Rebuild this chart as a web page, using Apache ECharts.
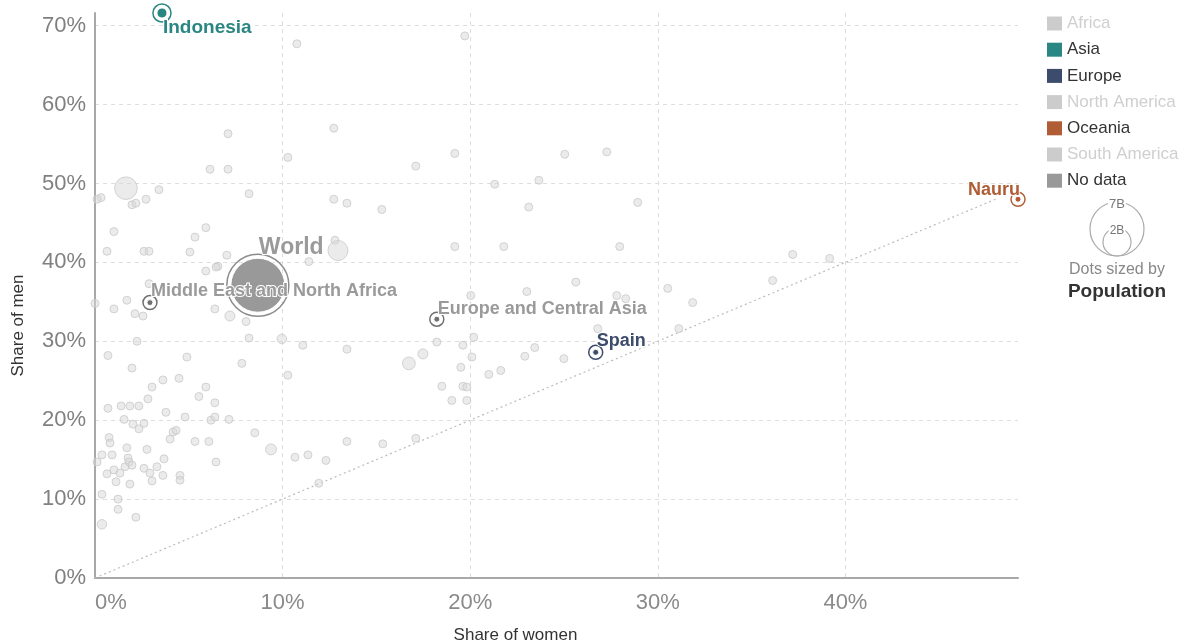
<!DOCTYPE html>
<html>
<head>
<meta charset="utf-8">
<script src="https://cdn.jsdelivr.net/npm/echarts@6/dist/echarts.min.js"></script>
<style>
  html, body { margin: 0; padding: 0; background: #fff; }
  #chart { width: 1193px; height: 643px; }
</style>
</head>
<body>
<div id="chart"></div>
<script>
// share of women / share of men (%) for every country drawn in grey
var womenShare = [
  10.76,19.71,7.09,12.73,10.28,6.13,7.09,17.10,19.18,25.04,
  27.28,1.65,0.32,0.11,3.41,1.97,2.18,2.72,8.21,12.73,
  13.43,15.29,21.31,23.66,23.12,28.93,1.01,5.91,5.33,0.64,
  2.61,2.88,5.06,7.03,5.91,6.55,6.45,12.79,12.95,11.40,
  19.18,21.79,27.97,37.19,39.16,36.12,25.63,23.02,20.03,27.81,
  28.29,30.53,31.86,31.12,26.80,2.88,0.00,1.01,1.70,2.13,
  2.56,6.39,7.19,8.05,18.22,20.19,19.61,17.48,16.73,20.09,
  19.50,22.91,23.44,24.99,21.63,20.99,18.49,19.61,19.82,19.02,
  19.82,2.24,0.69,1.97,4.90,8.21,9.96,11.08,13.43,7.83,
  10.28,3.62,4.48,3.04,2.82,5.91,5.54,6.39,0.69,1.39,
  1.86,2.34,3.78,1.55,2.02,2.34,2.61,4.80,6.18,6.39,
  7.14,4.16,4.32,4.00,5.33,6.07,8.52,0.75,0.80,1.70,
  2.77,0.37,0.91,0.11,1.76,1.81,3.68,6.45,9.38,10.66,
  11.35,12.31,11.93,13.43,15.34,17.10,1.60,1.97,1.01,1.33,
  0.64,2.61,2.93,3.30,1.12,1.86,3.04,3.62,4.53,4.53,
  0.37,1.23,1.23,2.18,0.37
];
var menShare = [
  67.7,68.7,56.3,57.0,53.3,51.8,51.8,52.2,53.8,53.7,
  54.0,49.4,48.2,48.0,49.2,47.3,47.5,48.0,48.7,48.0,
  47.5,46.7,49.9,50.4,47.0,47.6,43.9,44.4,43.2,41.4,
  41.4,41.4,41.3,40.9,38.9,39.5,39.4,42.8,41.5,40.1,
  42.0,42.0,42.0,41.0,40.5,37.7,37.5,36.3,35.8,35.8,
  35.4,36.7,34.9,31.6,31.6,37.3,34.8,34.1,35.2,33.5,
  33.2,34.1,33.2,32.5,29.9,30.5,29.5,28.4,27.2,28.0,
  26.7,28.1,29.2,27.8,26.3,25.8,24.3,24.3,24.2,22.5,
  22.5,30.0,28.2,26.6,28.0,30.4,30.3,29.5,29.0,27.2,
  25.7,25.1,25.3,24.2,22.7,24.2,23.0,22.2,21.5,21.8,
  21.8,21.8,21.0,20.1,19.5,18.9,19.6,20.4,20.0,20.4,
  20.1,18.5,18.7,17.6,17.3,17.3,18.4,17.8,17.1,16.5,
  16.3,15.6,15.6,14.7,15.2,14.7,15.1,14.7,16.3,15.3,
  15.6,14.9,12.0,17.3,17.0,17.7,14.1,14.3,13.7,13.3,
  13.2,13.9,13.3,14.1,12.2,11.9,12.3,13.0,13.0,12.4,
  10.6,10.0,8.7,7.7,6.8
];
// population in millions
var population = [
  10,10,10,10,10,10,10,10,10,10,
  10,1400,10,10,10,10,10,10,10,10,
  10,10,10,10,10,10,10,10,10,10,
  10,10,10,10,10,10,10,10,1100,10,
  10,10,10,10,10,10,10,10,10,10,
  10,10,10,10,10,10,10,10,10,10,
  10,10,275,10,10,10,10,275,450,10,
  10,10,10,10,10,10,10,10,10,10,
  10,10,10,10,10,10,250,10,10,10,
  10,10,10,10,10,10,10,10,10,10,
  10,10,10,10,10,10,10,10,10,10,
  10,10,10,10,10,10,10,10,10,10,
  10,10,10,10,10,10,10,10,330,10,
  10,10,10,10,10,10,10,10,10,10,
  10,10,10,10,10,10,10,10,10,10,
  10,10,10,10,250
];

// highlighted entities
var highlightNames = ['Indonesia', 'Spain', 'Nauru', 'World', 'Middle East and North Africa', 'Europe and Central Asia'];
var highlightRegions = ['Asia', 'Europe', 'Oceania', 'No data', 'No data', 'No data'];
var highlightWomen = [3.57, 26.69, 49.2, 8.68, 2.93, 18.22];
var highlightMen = [71.6, 28.6, 48.0, 37.1, 34.9, 32.8];
var highlightPopulation = [280, 48, 0.01, 8000, null, null];

var legendNames = ['Africa', 'Asia', 'Europe', 'North America', 'Oceania', 'South America', 'No data'];
var parityLine = [0, 48];
var xTicks = [0, 10, 20, 30, 40];
var yTicks = [0, 10, 20, 30, 40, 50, 60, 70];

var FONT = "'Liberation Sans', Arial, sans-serif";
var regionColors = {
  'Africa': '#cccccc', 'Asia': '#2a8683', 'Europe': '#3d4b6c', 'North America': '#cccccc',
  'Oceania': '#b05d36', 'South America': '#cccccc', 'No data': '#999999'
};
var dimmedRegions = ['Africa', 'North America', 'South America'];
var labelStyles = {
  'Indonesia': { offset: [1, 15], align: 'left', fontSize: 19 },
  'Spain': { offset: [1, -11], align: 'left', fontSize: 18 },
  'Nauru': { offset: [2, -9], align: 'right', fontSize: 18 },
  'World': { offset: [1, -38], align: 'left', fontSize: 23, color: '#9a9a9a' },
  'Middle East and North Africa': { offset: [1, -12], align: 'left', fontSize: 18, color: '#9a9a9a' },
  'Europe and Central Asia': { offset: [1, -10], align: 'left', fontSize: 18, color: '#9a9a9a' }
};
var dotColors = { 'Middle East and North Africa': '#707070', 'Europe and Central Asia': '#707070' };

function dotSize(pop, minSize) {
  if (pop == null) return minSize;
  return Math.max(minSize, 54 * Math.sqrt(pop / 8000));
}

var chartDom = document.getElementById('chart');
var myChart = echarts.init(chartDom);

var countryData = womenShare.map(function (w, i) {
  return [w, menShare[i], population[i]];
});

var series = [];

series.push({
  name: 'countries',
  type: 'scatter',
  clip: false,
  z: 2,
  data: countryData,
  symbolSize: function (val) { return dotSize(val[2], 8); },
  itemStyle: { color: 'rgba(216,216,216,0.65)', borderColor: '#c9c9c9', borderWidth: 1 },
  silent: true
});

series.push({
  name: 'parity',
  type: 'line',
  z: 1,
  data: [[parityLine[0], parityLine[0]], [parityLine[1], parityLine[1]]],
  symbol: 'none',
  silent: true,
  lineStyle: { color: '#bbbbbb', width: 1.2, type: [2, 3] }
});

legendNames.forEach(function (region) {
  var data = [];
  highlightNames.forEach(function (name, i) {
    if (highlightRegions[i] !== region) return;
    var ls = labelStyles[name];
    data.push({
      name: name,
      value: [highlightWomen[i], highlightMen[i], highlightPopulation[i]],
      itemStyle: dotColors[name] ? { color: dotColors[name] } : undefined,
      label: {
        show: true,
        position: 'inside',
        align: ls.align,
        verticalAlign: 'middle',
        offset: ls.offset,
        fontSize: ls.fontSize,
        color: ls.color || regionColors[region]
      }
    });
  });
  series.push({
    name: region,
    type: 'scatter',
    clip: false,
    z: 4,
    data: data,
    symbolSize: function (val) { return dotSize(val[2], 6); },
    itemStyle: { color: regionColors[region], borderColor: '#fff', borderWidth: 1, opacity: 1 },
    label: {
      formatter: '{b}',
      fontFamily: FONT,
      fontWeight: 'bold',
      textBorderColor: '#fff',
      textBorderWidth: 2
    }
  });
});

// rings round the highlighted dots
series.push({
  name: 'rings',
  type: 'scatter',
  clip: false,
  z: 3,
  silent: true,
  data: highlightNames.map(function (name, i) {
    var c = name === 'World' ? '#8c8c8c' : (dotColors[name] || regionColors[highlightRegions[i]]);
    return {
      name: name,
      value: [highlightWomen[i], highlightMen[i], highlightPopulation[i]],
      itemStyle: { borderColor: c }
    };
  }),
  symbolSize: function (val) { return dotSize(val[2], 6) + 8; },
  itemStyle: { color: 'rgba(255,255,255,0)', borderWidth: 1.5, opacity: 1 }
});

var option = {
  animation: false,
  backgroundColor: '#fff',
  textStyle: { fontFamily: FONT },
  grid: { left: 95, right: 175, top: 13, bottom: 65, containLabel: false, outerBoundsMode: 'none' },
  xAxis: {
    type: 'value',
    min: xTicks[0],
    max: 49.2,
    interval: 10,
    name: 'Share of women',
    nameLocation: 'middle',
    nameGap: 49,
    nameTextStyle: { fontSize: 17, color: '#333', fontFamily: FONT, padding: [0, 82, 0, 0] },
    axisLine: { show: true, lineStyle: { color: '#a8a8a8', width: 2 } },
    axisTick: { show: false },
    axisLabel: {
      formatter: '{value}%', fontSize: 22, color: '#8a8a8a', margin: 14,
      showMaxLabel: false, alignMinLabel: 'left', fontFamily: FONT
    },
    splitLine: { show: true, showMinLine: false, showMaxLine: false, lineStyle: { color: '#dddddd', type: [4, 4] } }
  },
  yAxis: {
    type: 'value',
    min: yTicks[0],
    max: 71.6,
    interval: 10,
    name: 'Share of men',
    nameLocation: 'middle',
    nameGap: 68,
    nameTextStyle: { fontSize: 17, color: '#333', fontFamily: FONT, padding: [0, 60, 0, 0] },
    axisLine: { show: true, lineStyle: { color: '#a8a8a8', width: 2 } },
    axisTick: { show: false },
    axisLabel: {
      formatter: '{value}%', fontSize: 22, color: '#808080', margin: 9,
      showMaxLabel: false, fontFamily: FONT
    },
    splitLine: { show: true, showMinLine: false, showMaxLine: false, lineStyle: { color: '#dddddd', type: [4, 4] } }
  },
  legend: {
    orient: 'vertical',
    left: 1047,
    top: 15,
    padding: 0,
    icon: 'rect',
    itemWidth: 15,
    itemHeight: 14,
    itemGap: 9.2,
    selectedMode: false,
    textStyle: { fontSize: 17, color: '#333', fontFamily: FONT },
    data: legendNames.map(function (n) {
      return {
        name: n,
        itemStyle: { color: regionColors[n], borderWidth: 0, opacity: 1 },
        textStyle: { color: dimmedRegions.indexOf(n) >= 0 ? '#cfcfcf' : '#333' }
      };
    })
  },
  graphic: [
    { type: 'circle', shape: { cx: 1117, cy: 229, r: 27 }, style: { fill: 'none', stroke: '#aaa', lineWidth: 1.2 } },
    { type: 'circle', shape: { cx: 1117, cy: 242, r: 14 }, style: { fill: 'none', stroke: '#aaa', lineWidth: 1.2 } },
    { type: 'text', x: 1117, y: 204, style: { text: '7B', font: '13px ' + FONT, fill: '#777', align: 'center', verticalAlign: 'middle', textAlign: 'center', textVerticalAlign: 'middle', backgroundColor: '#fff', padding: [0, 1] } },
    { type: 'text', x: 1117, y: 231, style: { text: '2B', font: '12px ' + FONT, fill: '#777', align: 'center', verticalAlign: 'middle', textAlign: 'center', textVerticalAlign: 'middle', backgroundColor: '#fff', padding: [0, 1] } },
    { type: 'text', x: 1117, y: 270, style: { text: 'Dots sized by', font: '16px ' + FONT, fill: '#888', align: 'center', verticalAlign: 'middle', textAlign: 'center', textVerticalAlign: 'middle' } },
    { type: 'text', x: 1117, y: 292, style: { text: 'Population', font: 'bold 19px ' + FONT, fill: '#333', align: 'center', verticalAlign: 'middle', textAlign: 'center', textVerticalAlign: 'middle' } }
  ],
  series: series
};

option && myChart.setOption(option);
</script>
</body>
</html>
